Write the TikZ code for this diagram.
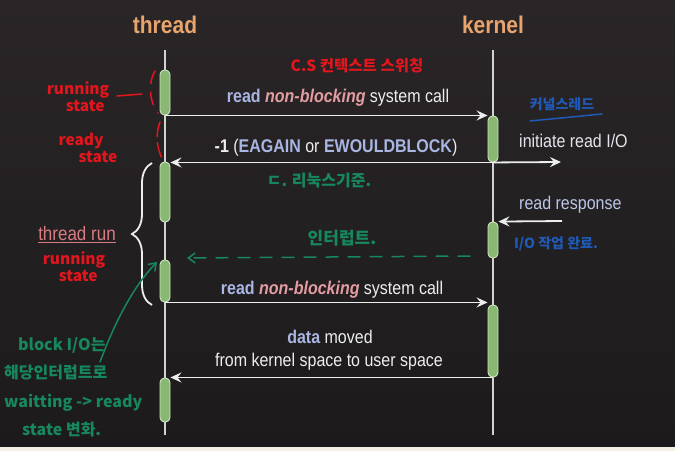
\documentclass[tikz,border=0pt]{standalone}
\usepackage{fontspec}
\setmainfont{Liberation Sans}
\newfontfamily\hand{Noto Sans CJK KR}
\usetikzlibrary{arrows.meta,positioning,decorations.pathreplacing}

\definecolor{slideTop}{HTML}{2A2627}
\definecolor{slideBot}{HTML}{1C1A1B}
\definecolor{stripCream}{HTML}{F5F0E4}
\definecolor{headOrange}{HTML}{E8A46C}
\definecolor{lineGray}{HTML}{D2D2D2}
\definecolor{msgWhite}{HTML}{EEEEEE}
\definecolor{barGreen}{HTML}{88B872}
\definecolor{barEdge}{HTML}{CFE3C4}
\definecolor{kwBlue}{HTML}{A9B6E4}
\definecolor{nbPink}{HTML}{E49CA3}
\definecolor{runPink}{HTML}{D97C82}
\definecolor{penRed}{HTML}{E3151D}
\definecolor{penGreen}{HTML}{17875D}
\definecolor{penBlue}{HTML}{1F5AB8}

\newcommand{\kw}[1]{\textcolor{kwBlue}{\bfseries #1}}
\newcommand{\nb}[1]{\textcolor{nbPink}{\bfseries\itshape #1}}

\begin{document}
\begin{tikzpicture}[
  x=1pt, y=-1pt,
  font=\fontsize{16}{19}\selectfont,
  head/.style={font=\fontsize{21}{25}\selectfont\bfseries, text=headOrange, yscale=1.15, anchor=base, inner sep=0pt},
  msglabel/.style={text=msgWhite, yscale=1.15, inner sep=0pt, anchor=base},
  lifeline/.style={draw=lineGray, line width=1.6pt},
  actbar/.style={draw=barEdge, fill=barGreen, rounded corners=4.5pt, minimum width=10pt, inner sep=0pt, line width=0.9pt},
  msg/.style={draw=msgWhite, line width=1.8pt, -{Stealth[length=11pt,width=10pt,inset=4pt]}},
  runbrace/.style={decorate, decoration={brace, amplitude=20pt}, draw=msgWhite, line width=1.8pt},
  redpen/.style={font=\hand\bfseries\fontsize{15.5}{17}\selectfont, text=penRed, inner sep=0pt, align=left},
  greenpen/.style={font=\hand\bfseries\fontsize{16}{28.5}\selectfont, text=penGreen, inner sep=0pt, align=left},
  bluepen/.style={font=\hand\bfseries\fontsize{14}{17}\selectfont, text=penBlue, inner sep=0pt},
  penline/.style={line width=1.5pt, line cap=round},
  barb/.style={-{Straight Barb[length=7pt,width=10pt]}}
]
  % slide
  \useasboundingbox (0,0) rectangle (675,451);
  \shade[top color=slideTop, bottom color=slideBot] (0,0) rectangle (675,447);
  \fill[stripCream] (0,447) rectangle (675,451);

  % participants
  \node[head] (thread) at (165,33) {thread};
  \node[head] (kernel) at (493,33) {kernel};
  \coordinate (tTop) at (165,50);
  \coordinate (tBot) at (165,435);
  \coordinate (kTop) at (493,50);
  \coordinate (kBot) at (493,435);
  \draw[lifeline] (tTop) -- (tBot);
  \draw[lifeline] (kTop) -- (kBot);

  % activations
  \node[actbar, minimum height=45pt] (t1) at (165,92.5) {};
  \node[actbar, minimum height=60pt] (t2) at (165,192) {};
  \node[actbar, minimum height=42pt] (t3) at (165,281) {};
  \node[actbar, minimum height=44pt] (t4) at (165,400) {};
  \node[actbar, minimum height=46pt] (k1) at (493,139) {};
  \node[actbar, minimum height=36pt] (k2) at (493,240) {};
  \node[actbar, minimum height=72pt] (k3) at (493,341) {};

  % messages
  \coordinate (ioOut) at (561,162);
  \coordinate (ioIn) at (562,221);
  \draw[msg] (t1.south) -- (t1.south -| k1.west);
  \draw[msg] (k1.south) -- (k1.south -| t2.east);
  \draw[msg] (k1.south) -- (ioOut);
  \draw[msg] (ioIn) -- (k2.north east);
  \draw[msg] (t3.south) -- (t3.south -| k3.west);
  \draw[msg] (k3.south) -- (k3.south -| t4.east);

  \node[msglabel] (callA) at (338,102) {\kw{read} \nb{non-blocking} system call};
  \node[msglabel] (retA) at (336,152) {\textbf{-1} (\kw{EAGAIN} or \kw{EWOULDBLOCK})};
  \node[msglabel, anchor=base west, text=msgWhite!85!kwBlue] (initIO) at (519,147) {initiate read I/O};
  \node[msglabel, anchor=base west, text=kwBlue!80!white] (resp) at (519,209) {read response};
  \node[msglabel] (callB) at (332,294) {\kw{read} \nb{non-blocking} system call};
  \node[msglabel] (dataA) at (330,343) {\kw{data} moved};
  \node[msglabel] (dataB) at (329,366) {from kernel space to user space};

  % thread run
  \coordinate (runTop) at (152,163);
  \coordinate (runBot) at (152,305);
  \draw[runbrace] (runBot) -- (runTop);
  \node[msglabel, text=runPink, font=\fontsize{17}{20}\selectfont] (runLbl) at (77,240) {\underline{thread run}};

  % red notes
  \node[redpen] (csNote) at (357,66) {C.S 컨텍스트 스위칭};
  \node[redpen] (runNoteA) at (78,97) {running\\\hspace*{19pt}state};
  \node[redpen] (readyNote) at (88,148) {ready\\\hspace*{20pt}state};
  \node[redpen] (runNoteB) at (74,267) {running\\\hspace*{16pt}state};
  \draw[penline, draw=penRed] (117,96) -- (142,94);
  \draw[penline, draw=penRed, dash pattern=on 13pt off 9pt] (155,71) .. controls (148,82) and (149,102) .. (158,113);
  \draw[penline, draw=penRed, dash pattern=on 15pt off 6pt] (160,122) .. controls (155,134) and (157,150) .. (163,160);

  % green notes
  \node[greenpen] (linuxNote) at (319,181) {ㄷ. 리눅스기준.};
  \node[greenpen, font=\hand\bfseries\fontsize{17}{20}\selectfont] (intrNote) at (342,238) {인터럽트.};
  \node[greenpen, anchor=north west] (blockNote) at (4,337) {\hspace*{14pt}block I/O는\\해당인터럽트로\\waitting -> ready\\\hspace*{18pt}state 변화.};
  \coordinate (intrFrom) at (470,256);
  \coordinate (intrTo) at (187,258);
  \coordinate (blockFrom) at (100,362);
  \coordinate (blockTo) at (157,262);
  \draw[penline, draw=penGreen, barb, dash pattern=on 12pt off 10pt] (intrFrom) -- (intrTo);
  \draw[penline, draw=penGreen, barb] (blockFrom) .. controls (112,330) and (130,290) .. (blockTo);

  % blue notes
  \node[bluepen] (kthNote) at (562,104) {커널스레드};
  \node[bluepen] (ioNote) at (556,244) {I/O 작업 완료.};
  \draw[penline, draw=penBlue] (530,121) -- (602,114);
\end{tikzpicture}
\end{document}
